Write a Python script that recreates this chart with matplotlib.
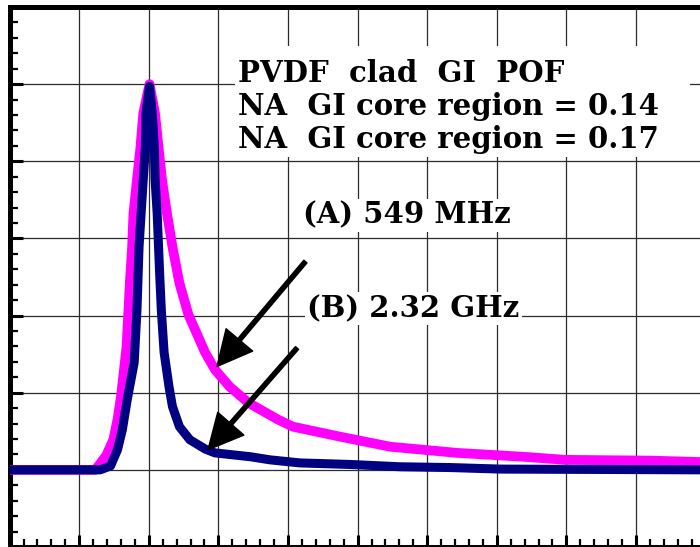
import numpy as np
import matplotlib.pyplot as plt
from matplotlib.patches import Rectangle

# scope traces, time and amplitude in screen divisions
t_a = [0.0, 1.23, 1.30, 1.39, 1.49, 1.55, 1.60, 1.68, 1.73, 1.76, 1.78, 1.83, 1.88,
       1.92, 2.01, 2.09, 2.14, 2.19, 2.26, 2.34, 2.44, 2.57, 2.81, 2.95, 3.16, 3.43,
       3.86, 4.07, 4.75, 5.47, 6.43, 7.38, 7.98, 9.20, 10.0]
v_a = [0.0, 0.0, 0.08, 0.19, 0.39, 0.65, 0.95, 1.59, 2.46, 2.89, 3.33, 3.76, 4.18,
       4.62, 5.00, 4.62, 4.18, 3.76, 3.33, 2.89, 2.42, 2.01, 1.52, 1.30, 1.08, 0.87,
       0.65, 0.56, 0.43, 0.30, 0.22, 0.17, 0.13, 0.12, 0.10]

t_b = [0.0, 1.30, 1.45, 1.55, 1.62, 1.69, 1.79, 1.83, 1.86, 1.89, 1.92, 1.95, 1.96,
       2.01, 2.05, 2.08, 2.09, 2.12, 2.14, 2.16, 2.18, 2.22, 2.29, 2.34, 2.44, 2.59,
       2.81, 2.95, 3.46, 3.74, 4.17, 4.89, 5.61, 6.33, 7.05, 10.0]
v_b = [0.0, 0.0, 0.05, 0.26, 0.52, 0.91, 1.39, 2.07, 2.89, 3.33, 3.76, 4.18, 4.62,
       4.97, 4.62, 4.18, 3.76, 3.33, 2.89, 2.46, 2.07, 1.52, 1.08, 0.82, 0.56, 0.39,
       0.27, 0.22, 0.17, 0.13, 0.09, 0.07, 0.04, 0.03, 0.01, 0.0]

info_lines = ["PVDF  clad  GI  POF",
              "NA  GI core region = 0.14",
              "NA  GI core region = 0.17"]
label_a = "(A) 549 MHz"
label_b = "(B) 2.32 GHz"

serif = dict(family="DejaVu Serif", weight="bold", size=21)

fig = plt.figure(figsize=(7, 5.47), dpi=100)
ax = fig.add_axes([9.6 / 700, 0.0, 696 / 700, 540 / 547])

ax.set_xlim(0, 10)
ax.set_ylim(-1, 6)
ax.set_xticks(np.arange(0, 11, 1))
ax.set_yticks(np.arange(-1, 7, 1))
ax.set_xticks(np.arange(0, 10.01, 0.2), minor=True)
ax.set_yticks(np.arange(-1, 6.01, 0.2), minor=True)
ax.set_xticklabels([])
ax.set_yticklabels([])
ax.tick_params(which="major", direction="in", length=9, width=2.2, color="black",
               top=False, right=False)
ax.tick_params(which="minor", direction="in", length=5.5, width=1.6, color="black",
               top=False, right=False)
ax.grid(True, which="major", color="#2b2b2b", lw=0.9, zorder=1)
ax.set_axisbelow(True)
for s in ax.spines.values():
    s.set_linewidth(3.6)

ax.plot(t_a, v_a, color="#ff00ff", lw=7, solid_joinstyle="round",
        solid_capstyle="round", zorder=3)
ax.plot(t_b, v_b, color="#000080", lw=6.5, solid_joinstyle="round",
        solid_capstyle="round", zorder=4)

# white panel behind the fibre info
ax.add_patch(Rectangle((3.24, 4.06), 6.54, 1.43, facecolor="white",
                       edgecolor="none", zorder=2))
for i, line in enumerate(info_lines):
    ax.text(3.28, 5.03 - i * 0.43, line, ha="left", va="baseline", zorder=5, **serif)

box = dict(facecolor="white", edgecolor="none", pad=1.5)
ax.text(4.22, 3.19, label_a, ha="left", va="baseline", bbox=box, zorder=5, **serif)
ax.text(4.28, 1.98, label_b, ha="left", va="baseline", bbox=box, zorder=5, **serif)

arrow = dict(facecolor="black", edgecolor="black", width=3, headwidth=25,
             headlength=25, shrink=0)
ax.annotate("", xy=(2.98, 1.34), xytext=(4.25, 2.70), arrowprops=arrow, zorder=6)
ax.annotate("", xy=(2.85, 0.26), xytext=(4.13, 1.58), arrowprops=arrow, zorder=6)

fig.savefig("out.png", dpi=100)
